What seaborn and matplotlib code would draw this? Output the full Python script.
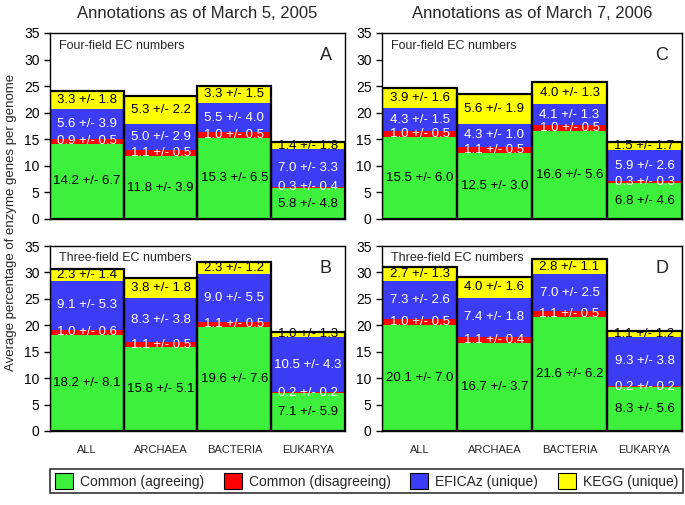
import matplotlib
matplotlib.use("Agg")
import matplotlib.pyplot as plt
from matplotlib.patches import Patch
import numpy as np
import pandas as pd
import seaborn as sns

categories = ["ALL", "ARCHAEA", "BACTERIA", "EUKARYA"]
layer_names = ["Common (agreeing)", "Common (disagreeing)", "EFICAz (unique)", "KEGG (unique)"]
layer_colors = ["#3cf03c", "#ff0000", "#3c3cf5", "#ffff00"]
text_colors = ["black", "white", "white", "black"]

# panel A: 2005, four-field
a_mean = [[14.2, 11.8, 15.3, 5.8], [0.9, 1.1, 1.0, 0.3], [5.6, 5.0, 5.5, 7.0], [3.3, 5.3, 3.3, 1.4]]
a_sd = [[6.7, 3.9, 6.5, 4.8], [0.5, 0.5, 0.5, 0.4], [3.9, 2.9, 4.0, 3.3], [1.8, 2.2, 1.5, 1.8]]
# panel B: 2005, three-field
b_mean = [[18.2, 15.8, 19.6, 7.1], [1.0, 1.1, 1.1, 0.2], [9.1, 8.3, 9.0, 10.5], [2.3, 3.8, 2.3, 1.0]]
b_sd = [[8.1, 5.1, 7.6, 5.9], [0.6, 0.5, 0.5, 0.2], [5.3, 3.8, 5.5, 4.3], [1.4, 1.8, 1.2, 1.3]]
# panel C: 2006, four-field
c_mean = [[15.5, 12.5, 16.6, 6.8], [1.0, 1.1, 1.0, 0.3], [4.3, 4.3, 4.1, 5.9], [3.9, 5.6, 4.0, 1.5]]
c_sd = [[6.0, 3.0, 5.6, 4.6], [0.5, 0.5, 0.5, 0.3], [1.5, 1.0, 1.3, 2.6], [1.6, 1.9, 1.3, 1.7]]
# panel D: 2006, three-field
d_mean = [[20.1, 16.7, 21.6, 8.3], [1.0, 1.1, 1.1, 0.2], [7.3, 7.4, 7.0, 9.3], [2.7, 4.0, 2.8, 1.1]]
d_sd = [[7.0, 3.7, 6.2, 5.6], [0.5, 0.4, 0.5, 0.2], [2.6, 1.8, 2.5, 3.8], [1.3, 1.6, 1.1, 1.2]]

panels = [
    ("A", "Four-field EC numbers", a_mean, a_sd),
    ("B", "Three-field EC numbers", b_mean, b_sd),
    ("C", "Four-field EC numbers", c_mean, c_sd),
    ("D", "Three-field EC numbers", d_mean, d_sd),
]

sns.set_theme(style="ticks")
plt.rcParams["font.family"] = ["Liberation Sans", "DejaVu Sans"]

W, H = 685, 505
fig = plt.figure(figsize=(W / 100, H / 100), dpi=100)


def box(x0, x1, ytop, ybot):
    return [x0 / W, 1 - ybot / H, (x1 - x0) / W, (ybot - ytop) / H]


positions = {
    "A": box(50, 345, 33, 219),
    "B": box(50, 345, 246, 431),
    "C": box(382, 682, 33, 219),
    "D": box(382, 682, 246, 431),
}


def draw_panel(ax, letter, subtitle, means, sds, bottom_row):
    means = np.array(means)
    cum = np.cumsum(means, axis=0)
    # draw from top layer down so each layer covers the one above its bottom
    for k in range(3, -1, -1):
        frame = pd.DataFrame({"group": categories, "value": cum[k]})
        sns.barplot(data=frame, x="group", y="value", order=categories,
                    color=layer_colors[k], saturation=1, width=1,
                    linewidth=0, errorbar=None, ax=ax)
    outline = pd.DataFrame({"group": categories, "value": cum[3]})
    sns.barplot(data=outline, x="group", y="value", order=categories,
                color="black", fill=False, width=1, linewidth=1.6,
                errorbar=None, ax=ax)
    for k in range(4):
        for i in range(len(categories)):
            base = cum[k][i] - means[k][i]
            ax.text(i, base + means[k][i] / 2,
                    f"{means[k][i]:.1f} +/- {sds[k][i]:.1f}",
                    ha="center", va="center", fontsize=9.5,
                    color=text_colors[k])
    ax.set_ylim(0, 35)
    ax.set_xlim(-0.5, 3.5)
    ax.set_yticks(range(0, 36, 5))
    ax.tick_params(axis="y", labelsize=10, length=4, width=1, colors="black")
    ax.tick_params(axis="x", length=0, labelsize=8, pad=10)
    if not bottom_row:
        ax.set_xticklabels([])
    ax.set_xlabel("")
    ax.set_ylabel("")
    for s in ax.spines.values():
        s.set_visible(True)
        s.set_color("black")
        s.set_linewidth(1)
    ax.text(0.03, 0.965, subtitle, transform=ax.transAxes, ha="left", va="top", fontsize=9)
    ax.text(0.955, 0.88, letter, transform=ax.transAxes, ha="right", va="center", fontsize=13)


for letter, subtitle, means, sds in panels:
    ax = fig.add_axes(positions[letter])
    draw_panel(ax, letter, subtitle, means, sds, letter in ("B", "D"))

fig.text(197 / W, 1 - 13 / H, "Annotations as of March 5, 2005", ha="center", va="center", fontsize=12)
fig.text(532 / W, 1 - 13 / H, "Annotations as of March 7, 2006", ha="center", va="center", fontsize=12)
fig.text(11 / W, 1 - 222 / H, "Average percentage of enzyme genes per genome",
         rotation=90, ha="center", va="center", fontsize=9.5)

handles = [Patch(facecolor=c, edgecolor="black", linewidth=0.8) for c in layer_colors]
leg = fig.legend(handles, layer_names, loc="center", ncol=4,
                 bbox_to_anchor=(50 / W, 1 - 497 / H, 633 / W, 32 / H),
                 mode="expand", borderaxespad=0, fontsize=10, frameon=True,
                 fancybox=False, edgecolor="black", handlelength=1.3,
                 handleheight=1.3, handletextpad=0.5, borderpad=0.35,
                 columnspacing=1.0)
leg.get_frame().set_linewidth(1.2)

fig.savefig("out.png", dpi=100)
